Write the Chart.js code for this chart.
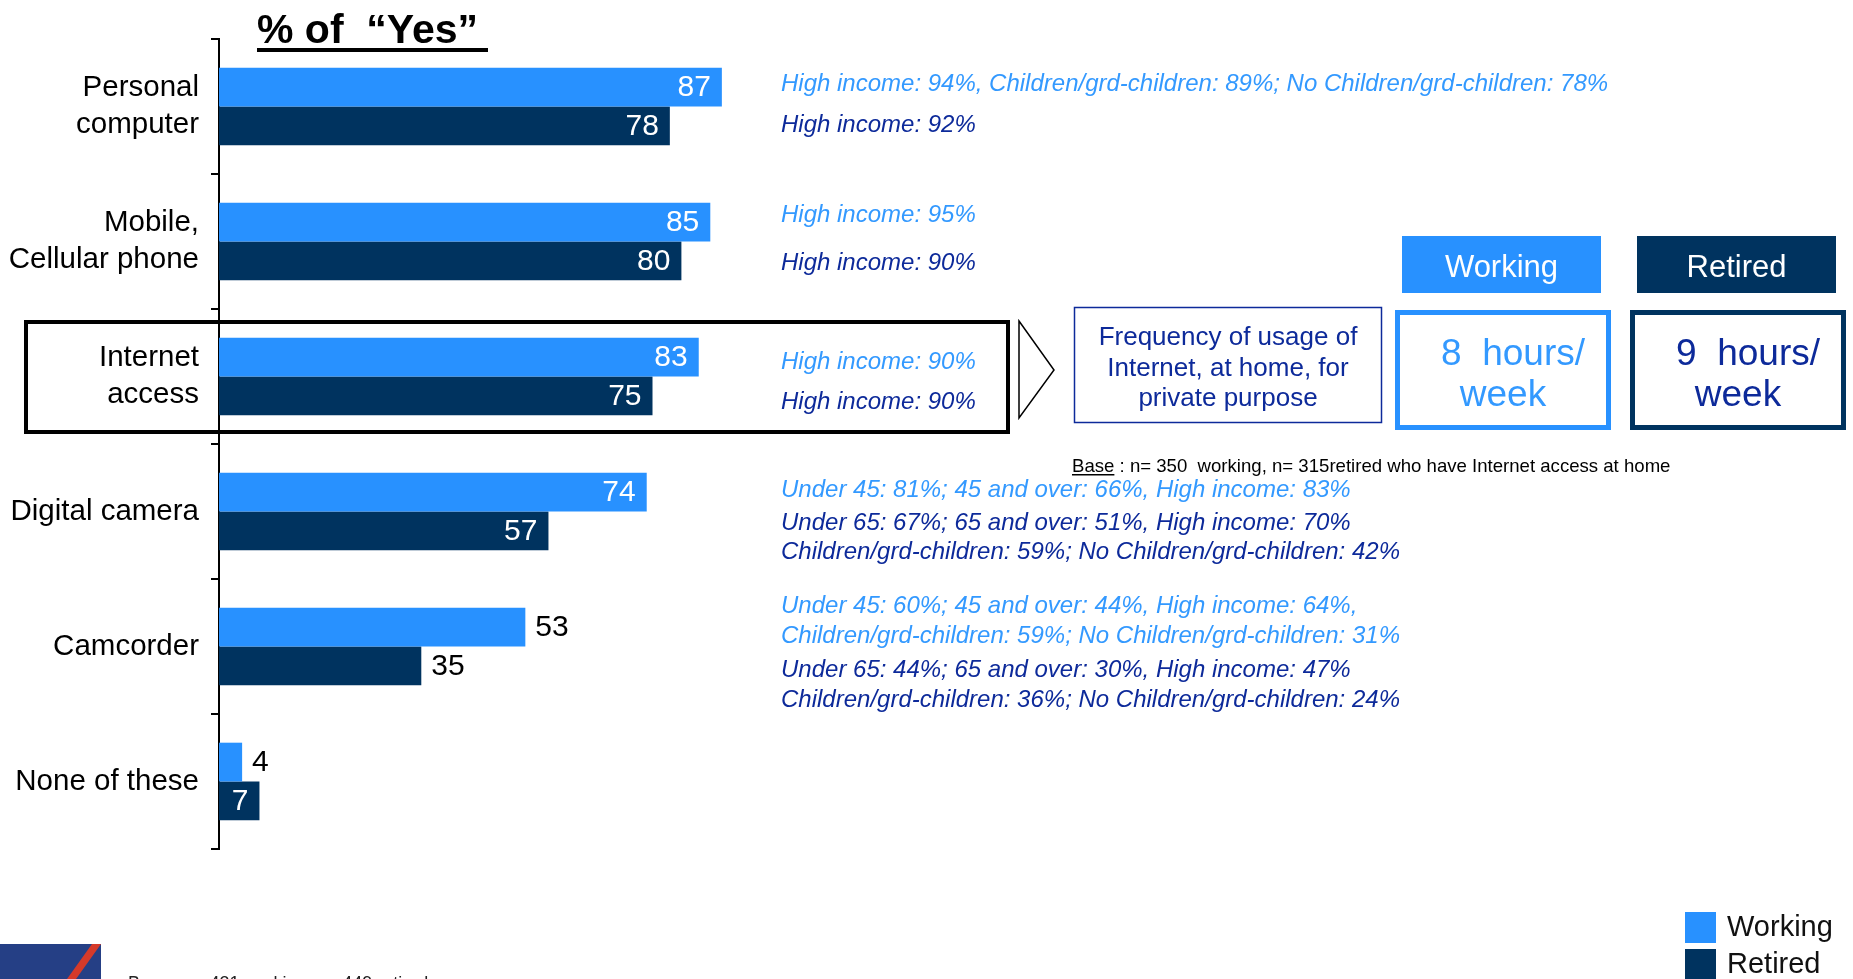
<!DOCTYPE html>
<html>
<head>
<meta charset="utf-8">
<title>% of "Yes"</title>
<script src="https://cdn.jsdelivr.net/npm/chart.js@4.4.1/dist/chart.umd.min.js"></script>
<style>
  html, body { margin: 0; padding: 0; background: #fff; overflow: hidden; }
  #wrap { position: relative; width: 1853px; height: 979px; }
</style>
</head>
<body>
<div id="wrap"><canvas id="devices"></canvas></div>
<script>
const categories = [["Personal", "computer"], ["Mobile,", "Cellular phone"], ["Internet", "access"], "Digital camera", "Camcorder", "None of these"];
const working = [87, 85, 83, 74, 53, 4];
const retired = [78, 80, 75, 57, 35, 7];
const seriesNames = ["Working", "Retired"];

// sub-group notes printed to the right of each pair of bars
const workingNotes = [
  ["High income: 94%, Children/grd-children: 89%; No Children/grd-children: 78%"],
  ["High income: 95%"],
  ["High income: 90%"],
  ["Under 45: 81%; 45 and over: 66%, High income: 83%"],
  ["Under 45: 60%; 45 and over: 44%, High income: 64%,", "Children/grd-children: 59%; No Children/grd-children: 31%"],
  []
];
const retiredNotes = [
  ["High income: 92%"],
  ["High income: 90%"],
  ["High income: 90%"],
  ["Under 65: 67%; 65 and over: 51%, High income: 70%", "Children/grd-children: 59%; No Children/grd-children: 42%"],
  ["Under 65: 44%; 65 and over: 30%, High income: 47%", "Children/grd-children: 36%; No Children/grd-children: 24%"],
  []
];
const hoursPerWeek = [8, 9];
const baseCounts = [350, 315];

const LIGHT = "#2891FF";
const DARK = "#00335F";
const NOTE_LIGHT = "#3399FF";
const NOTE_DARK = "#0D2A9A";
const FONT = "'Liberation Sans', Arial, sans-serif";

// baselines of the note lines, per category
const workingNoteY = [[91], [222], [369], [497], [613, 643], []];
const retiredNoteY = [[132], [270], [409], [530, 559], [677, 707], []];

const valueLabels = {
  id: "valueLabels",
  afterDatasetsDraw(chart) {
    const ctx = chart.ctx;
    ctx.save();
    ctx.font = "30px " + FONT;
    ctx.textBaseline = "middle";
    chart.data.datasets.forEach((ds, di) => {
      chart.getDatasetMeta(di).data.forEach((bar, i) => {
        const txt = String(ds.data[i]);
        if (ds.labelInside[i]) {
          ctx.fillStyle = "#fff";
          ctx.textAlign = "right";
          ctx.fillText(txt, bar.x - 11, bar.y + 1);
        } else {
          ctx.fillStyle = "#000";
          ctx.textAlign = "left";
          ctx.fillText(txt, bar.x + 10, bar.y + 1);
        }
      });
    });
    ctx.restore();
  }
};

const extras = {
  id: "extras",
  afterDraw(chart) {
    const ctx = chart.ctx;
    ctx.save();

    // title
    ctx.fillStyle = "#000";
    ctx.font = "bold 41px " + FONT;
    ctx.textAlign = "left";
    ctx.textBaseline = "alphabetic";
    ctx.fillText("% of  \u201cYes\u201d", 257, 43);
    ctx.fillRect(257, 48, 231, 4);

    // notes
    ctx.font = "italic 24px " + FONT;
    workingNotes.forEach((lines, i) => {
      ctx.fillStyle = NOTE_LIGHT;
      lines.forEach((t, j) => ctx.fillText(t, 781, workingNoteY[i][j]));
    });
    retiredNotes.forEach((lines, i) => {
      ctx.fillStyle = NOTE_DARK;
      lines.forEach((t, j) => ctx.fillText(t, 781, retiredNoteY[i][j]));
    });

    // highlight around Internet access
    ctx.strokeStyle = "#000";
    ctx.lineWidth = 4;
    ctx.strokeRect(26, 322, 982, 110);

    // arrow
    ctx.beginPath();
    ctx.moveTo(1019, 321);
    ctx.lineTo(1054, 370);
    ctx.lineTo(1019, 418);
    ctx.closePath();
    ctx.fillStyle = "#fff";
    ctx.fill();
    ctx.lineWidth = 1.5;
    ctx.stroke();

    // frequency box
    ctx.strokeStyle = NOTE_DARK;
    ctx.lineWidth = 1.5;
    ctx.strokeRect(1074.5, 307.5, 307, 115);
    ctx.fillStyle = NOTE_DARK;
    ctx.font = "26px " + FONT;
    ctx.textAlign = "center";
    ["Frequency of usage of", "Internet, at home, for", "private purpose"].forEach((t, j) => {
      ctx.fillText(t, 1228, 345 + j * 30.5);
    });

    // header boxes + hours boxes
    const ds = chart.data.datasets;
    const boxX = [1402, 1637];
    const hourColors = [NOTE_LIGHT, NOTE_DARK];
    ds.forEach((d, k) => {
      ctx.fillStyle = d.backgroundColor;
      ctx.fillRect(boxX[k], 236, 199, 57);
      ctx.fillStyle = "#fff";
      ctx.font = "31px " + FONT;
      ctx.textBaseline = "middle";
      ctx.fillText(d.label, boxX[k] + 99.5, 268);
      ctx.textBaseline = "alphabetic";

      ctx.strokeStyle = d.backgroundColor;
      ctx.lineWidth = 5;
      ctx.strokeRect(boxX[k] - 4.5, 312.5, 211, 115);
      ctx.fillStyle = hourColors[k];
      ctx.font = "37px " + FONT;
      const cx = boxX[k] - 4.5 + 105.5;
      ctx.fillText(hoursPerWeek[k] + "  hours/", cx + 10, 365);
      ctx.fillText("week", cx, 406);
    });

    // base note
    ctx.textAlign = "left";
    ctx.fillStyle = "#000";
    ctx.font = "18.6px " + FONT;
    ctx.fillText("Base", 1072, 472);
    const bw = ctx.measureText("Base").width;
    ctx.fillRect(1072, 474, bw, 1.5);
    ctx.fillText(" : n= " + baseCounts[0] + "  working, n= " + baseCounts[1] + "retired who have Internet access at home", 1072 + bw, 472);

    // legend
    ctx.font = "29px " + FONT;
    ctx.textBaseline = "middle";
    ds.forEach((d, k) => {
      ctx.fillStyle = d.backgroundColor;
      ctx.fillRect(1685, 912 + k * 37, 31, 31);
      ctx.fillStyle = "#111";
      ctx.fillText(d.label, 1727, 928 + k * 37);
    });

    // logo + footer
    ctx.fillStyle = "#253F85";
    ctx.fillRect(0, 944, 101, 35);
    ctx.fillStyle = "#D53A2A";
    ctx.beginPath();
    ctx.moveTo(92, 944);
    ctx.lineTo(101, 944);
    ctx.lineTo(76, 979);
    ctx.lineTo(67, 979);
    ctx.closePath();
    ctx.fill();
    ctx.fillStyle = "#222";
    ctx.font = "18px " + FONT;
    ctx.textBaseline = "alphabetic";
    ctx.fillText("Base : n= 431 working, n= 449 retired", 128, 989);

    ctx.restore();
  }
};

new Chart(document.getElementById("devices"), {
  type: "bar",
  data: {
    labels: categories,
    datasets: [
      { label: seriesNames[0], data: working, backgroundColor: LIGHT, labelInside: [true, true, true, true, false, false] },
      { label: seriesNames[1], data: retired, backgroundColor: DARK, labelInside: [true, true, true, true, false, true] }
    ]
  },
  options: {
    indexAxis: "y",
    responsive: true,
    maintainAspectRatio: false,
    animation: false,
    categoryPercentage: 0.575,
    barPercentage: 1.0,
    layout: { padding: { left: 0, top: 39, right: 1056, bottom: 130 } },
    scales: {
      x: { display: false, min: 0, max: 100 },
      y: {
        afterFit(scale) { scale.width = 219; },
        border: { display: true, color: "#000", width: 2 },
        grid: { display: true, drawOnChartArea: false, drawTicks: true, tickLength: 8, color: "#000", lineWidth: 2, offset: true },
        ticks: { color: "#000", padding: 12, font: { family: FONT, size: 29.5, lineHeight: 1.27 } }
      }
    },
    plugins: {
      legend: { display: false },
      tooltip: { enabled: false }
    }
  },
  plugins: [valueLabels, extras]
});
</script>
</body>
</html>
